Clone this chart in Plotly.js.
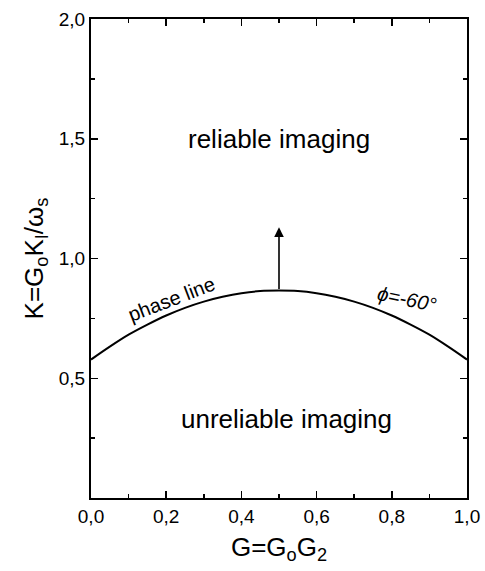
<!DOCTYPE html>
<html>
<head>
<meta charset="utf-8">
<script src="https://cdn.plot.ly/plotly-3.0.1.min.js"></script>
<style>body{margin:0;padding:0;background:#fff;}</style>
</head>
<body>
<div id="chart" style="width:485px;height:571px;"></div>
<script>
const G = [0, 0.05, 0.1, 0.15, 0.2, 0.25, 0.3, 0.35, 0.4, 0.45, 0.5, 0.55, 0.6, 0.65, 0.7, 0.75, 0.8, 0.85, 0.9, 0.95, 1.0];
const K = [0.578, 0.632, 0.682, 0.724, 0.762, 0.794, 0.820, 0.840, 0.855, 0.864, 0.866, 0.864, 0.855, 0.840, 0.820, 0.794, 0.762, 0.724, 0.682, 0.632, 0.578];
const xTicks = [0, 0.2, 0.4, 0.6, 0.8, 1.0];
const yTicks = [0.5, 1.0, 1.5, 2.0];
const arrowFrom = [0.5, 0.866];
const arrowTo = [0.5, 1.13];

const font = "Liberation Sans, Arial, sans-serif";
const axisCommon = {
  showline: true, linecolor: '#000', linewidth: 2, mirror: 'ticks',
  ticks: 'inside', ticklen: 7, tickwidth: 1.5, tickcolor: '#000',
  showgrid: false, zeroline: false, tickformat: '.1f',
  tickfont: {family: font, size: 19, color: '#000'},
  minor: {ticks: 'inside', ticklen: 4, tickwidth: 1.5, tickcolor: '#000', showgrid: false}
};

const trace = {
  x: G, y: K, mode: 'lines', type: 'scatter',
  line: {color: '#000', width: 2, shape: 'spline'}, hoverinfo: 'skip'
};

const layout = {
  width: 485, height: 571,
  margin: {l: 91, r: 18, t: 19, b: 73},
  paper_bgcolor: '#fff', plot_bgcolor: '#fff',
  separators: ',.',
  showlegend: false,
  xaxis: Object.assign({}, axisCommon, {
    range: [0, 1], tickvals: xTicks, minor: Object.assign({}, axisCommon.minor, {dtick: 0.1}),
    title: {text: 'G=G<sub>o</sub>G<sub>2</sub>', font: {family: font, size: 26, color: '#000'}, standoff: 12}
  }),
  yaxis: Object.assign({}, axisCommon, {
    range: [0, 2], tickvals: yTicks, minor: Object.assign({}, axisCommon.minor, {dtick: 0.25}),
    title: {text: 'K=G<sub>o</sub>K<sub>I</sub>/ω<sub>s</sub>', font: {family: font, size: 26, color: '#000'}, standoff: 8}
  }),
  annotations: [
    {x: arrowTo[0], y: arrowTo[1], ax: arrowFrom[0], ay: arrowFrom[1], xref: 'x', yref: 'y', axref: 'x', ayref: 'y',
     showarrow: true, arrowhead: 2, arrowsize: 1.2, arrowwidth: 1.6, arrowcolor: '#000', text: ''},
    {x: 0.5, y: 1.5, xref: 'x', yref: 'y', text: 'reliable imaging', showarrow: false,
     font: {family: font, size: 26, color: '#000'}},
    {x: 0.52, y: 0.33, xref: 'x', yref: 'y', text: 'unreliable imaging', showarrow: false,
     font: {family: font, size: 26, color: '#000'}},
    {x: 0.215, y: 0.83, xref: 'x', yref: 'y', text: 'phase line', showarrow: false, textangle: -21,
     font: {family: font, size: 20, color: '#000'}},
    {x: 0.84, y: 0.83, xref: 'x', yref: 'y', text: '<i>ϕ=-60°</i>', showarrow: false, textangle: 12,
     font: {family: font, size: 20, color: '#000'}}
  ]
};

Plotly.newPlot('chart', [trace], layout, {displayModeBar: false, staticPlot: true});
</script>
</body>
</html>
